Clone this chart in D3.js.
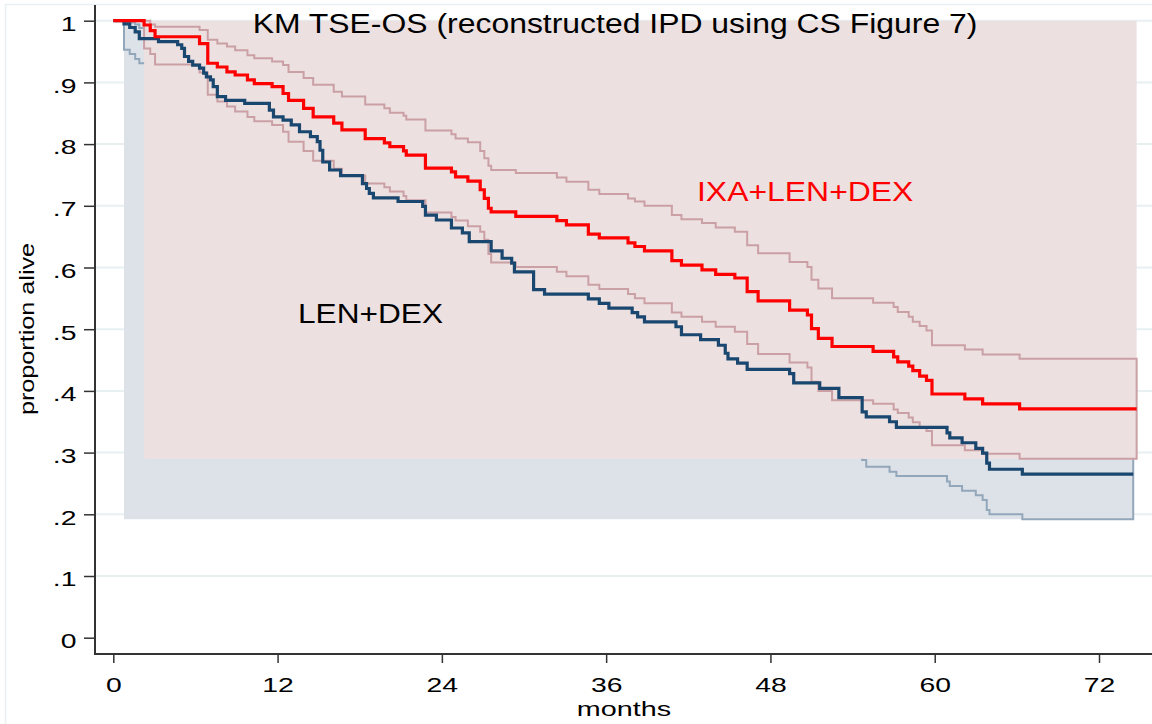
<!DOCTYPE html>
<html>
<head>
<meta charset="utf-8">
<script src="https://cdn.jsdelivr.net/npm/d3@7"></script>
<style>
  body { margin: 0; background: #fff; }
  svg { display: block; }
  text { font-family: "Liberation Sans", Arial, sans-serif; }
</style>
</head>
<body>
<svg id="chart"></svg>
<script>
// axis ticks
const monthTicks = [0, 12, 24, 36, 48, 60, 72];
const propTicks = [0, 0.1, 0.2, 0.3, 0.4, 0.5, 0.6, 0.7, 0.8, 0.9, 1];

// IXA+LEN+DEX (red) - KM steps, CI starts at first event
const ixaTime = [0, 2.25, 2.7, 3.05, 6.3, 6.9, 7.6, 8.3, 8.9, 9.8, 10.3, 11.6, 12.4, 12.8, 13.9, 14.6, 16.1, 16.7, 18.4, 19.8, 20.2, 21.2, 21.4, 22.8, 24.7, 25.0, 25.9, 26.8, 27.1, 27.4, 27.6, 29.4, 32.4, 33.1, 34.7, 35.5, 37.6, 38.1, 38.8, 40.8, 41.5, 43.0, 44.0, 45.4, 46.3, 47.1, 49.4, 50.7, 51.0, 51.5, 52.5, 55.5, 57.0, 57.3, 58.1, 58.4, 58.9, 59.4, 59.8, 62.2, 63.5, 66.2];
const ixaSurv = [1, 0.993, 0.984, 0.974, 0.963, 0.931, 0.925, 0.917, 0.912, 0.904, 0.898, 0.893, 0.882, 0.871, 0.858, 0.844, 0.834, 0.823, 0.809, 0.802, 0.796, 0.789, 0.782, 0.761, 0.755, 0.747, 0.740, 0.726, 0.712, 0.696, 0.690, 0.683, 0.676, 0.669, 0.654, 0.648, 0.640, 0.634, 0.627, 0.611, 0.604, 0.596, 0.589, 0.583, 0.561, 0.546, 0.531, 0.523, 0.501, 0.485, 0.472, 0.464, 0.455, 0.447, 0.440, 0.433, 0.424, 0.417, 0.395, 0.387, 0.379, 0.371];
const ixaHi = [1.0, 0.994, 0.990, 0.985, 0.969, 0.963, 0.958, 0.952, 0.944, 0.939, 0.934, 0.928, 0.917, 0.907, 0.896, 0.885, 0.877, 0.864, 0.858, 0.851, 0.846, 0.840, 0.822, 0.816, 0.809, 0.803, 0.789, 0.777, 0.765, 0.758, 0.753, 0.746, 0.739, 0.726, 0.719, 0.712, 0.707, 0.700, 0.685, 0.678, 0.672, 0.665, 0.658, 0.636, 0.623, 0.609, 0.601, 0.580, 0.566, 0.550, 0.543, 0.536, 0.528, 0.520, 0.512, 0.505, 0.498, 0.474, 0.467, 0.459, 0.452];
const ixaLo = [0.955, 0.946, 0.929, 0.916, 0.880, 0.869, 0.861, 0.853, 0.844, 0.837, 0.831, 0.820, 0.804, 0.789, 0.773, 0.760, 0.749, 0.736, 0.730, 0.723, 0.716, 0.709, 0.689, 0.682, 0.676, 0.667, 0.658, 0.645, 0.622, 0.608, 0.601, 0.593, 0.586, 0.572, 0.565, 0.557, 0.550, 0.542, 0.527, 0.520, 0.512, 0.504, 0.496, 0.476, 0.460, 0.446, 0.438, 0.415, 0.400, 0.385, 0.379, 0.370, 0.364, 0.357, 0.349, 0.341, 0.335, 0.312, 0.304, 0.298, 0.290];
const ixaEnd = 74.75;

// LEN+DEX (navy)
const lenTime = [0, 0.78, 1.2, 1.6, 1.9, 3.3, 4.7, 5.0, 5.2, 5.5, 5.8, 6.3, 6.6, 6.8, 7.1, 7.3, 7.6, 8.2, 9.6, 11.4, 11.7, 12.4, 13.0, 13.6, 14.4, 14.9, 15.1, 15.3, 15.8, 16.6, 18.2, 18.5, 18.7, 19.0, 20.8, 22.6, 22.8, 23.6, 24.7, 25.5, 26.0, 27.6, 28.4, 29.1, 29.3, 30.7, 31.5, 34.7, 35.5, 36.2, 37.9, 38.3, 38.8, 41.1, 41.5, 42.9, 44.2, 44.7, 44.9, 45.6, 46.3, 49.4, 49.7, 51.6, 53.0, 54.7, 55.0, 56.7, 57.2, 60.9, 61.1, 62.0, 63.0, 63.5, 63.8, 64.0, 66.4];
const lenSurv = [1, 0.995, 0.989, 0.982, 0.971, 0.966, 0.961, 0.955, 0.942, 0.934, 0.928, 0.923, 0.915, 0.909, 0.904, 0.893, 0.877, 0.871, 0.866, 0.855, 0.844, 0.839, 0.831, 0.820, 0.812, 0.804, 0.790, 0.771, 0.758, 0.749, 0.736, 0.728, 0.720, 0.713, 0.707, 0.699, 0.685, 0.677, 0.664, 0.656, 0.642, 0.627, 0.615, 0.607, 0.593, 0.564, 0.557, 0.549, 0.542, 0.534, 0.527, 0.520, 0.512, 0.504, 0.491, 0.483, 0.474, 0.461, 0.452, 0.445, 0.435, 0.428, 0.413, 0.404, 0.389, 0.366, 0.358, 0.350, 0.341, 0.332, 0.324, 0.316, 0.307, 0.299, 0.283, 0.273, 0.265];
const lenHi = [0.998, 0.997, 0.994, 0.988, 0.985, 0.982, 0.978, 0.969, 0.963, 0.958, 0.954, 0.948, 0.943, 0.939, 0.930, 0.917, 0.913, 0.909, 0.899, 0.890, 0.886, 0.879, 0.870, 0.863, 0.856, 0.844, 0.827, 0.816, 0.808, 0.797, 0.789, 0.782, 0.776, 0.771, 0.764, 0.751, 0.744, 0.732, 0.725, 0.712, 0.698, 0.687, 0.680, 0.667, 0.639, 0.632, 0.625, 0.618, 0.611, 0.604, 0.597, 0.590, 0.582, 0.570, 0.562, 0.554, 0.541, 0.533, 0.526, 0.517, 0.510, 0.496, 0.487, 0.473, 0.451, 0.443, 0.435, 0.427, 0.418, 0.410, 0.402, 0.393, 0.385, 0.369, 0.359, 0.351];
const lenLo = [0.953, 0.946, 0.938, 0.931, 0.925, 0.919, 0.912, 0.897, 0.888, 0.881, 0.875, 0.866, 0.859, 0.853, 0.841, 0.824, 0.817, 0.811, 0.799, 0.787, 0.781, 0.772, 0.760, 0.751, 0.743, 0.728, 0.707, 0.693, 0.684, 0.670, 0.661, 0.652, 0.645, 0.639, 0.630, 0.616, 0.607, 0.594, 0.585, 0.571, 0.555, 0.543, 0.534, 0.520, 0.490, 0.483, 0.475, 0.467, 0.459, 0.452, 0.444, 0.436, 0.428, 0.415, 0.407, 0.398, 0.385, 0.376, 0.369, 0.359, 0.352, 0.337, 0.328, 0.313, 0.288, 0.277, 0.269, 0.262, 0.253, 0.246, 0.238, 0.231, 0.223, 0.207, 0.200, 0.192];
const lenEnd = 74.5;

const svgWidth = 1152;
const svgHeight = 724;
const axisX = 95;
const axisY = 654;
const gridColor = "#e9f0f2";

const svg = d3.select("#chart").attr("width", svgWidth).attr("height", svgHeight);

const x = d3.scaleLinear().domain([0, 72]).range([113.3, 1099]);
const y = d3.scaleLinear().domain([0, 1]).range([637.7, 20.7]);

// outer frame
svg.append("rect")
  .attr("x", 5.5).attr("y", 4.5)
  .attr("width", 2000).attr("height", 2000)
  .attr("fill", "none").attr("stroke", gridColor).attr("stroke-width", 1.5);

// grid
svg.append("g")
  .selectAll("line")
  .data(propTicks.filter((d) => d > 0))
  .join("line")
  .attr("x1", axisX).attr("x2", svgWidth)
  .attr("y1", (d) => y(d)).attr("y2", (d) => y(d))
  .attr("stroke", gridColor).attr("stroke-width", 2);

function stepPoints(t, v, tEnd) {
  const pts = [];
  t.forEach((ti, i) => {
    if (i > 0) pts.push([ti, v[i - 1]]);
    pts.push([ti, v[i]]);
  });
  pts.push([tEnd, v[v.length - 1]]);
  return pts;
}

const line = d3.line().x((d) => x(d[0])).y((d) => y(d[1]));

function drawBand(t, lo, hi, tEnd, fill, stroke) {
  const ciT = t.slice(1);
  const top = d3.max(hi);
  const bot = d3.min(lo);
  svg.append("rect")
    .attr("x", x(ciT[0]))
    .attr("width", x(tEnd) - x(ciT[0]))
    .attr("y", y(top))
    .attr("height", y(bot) - y(top))
    .attr("fill", fill);
  const up = stepPoints(ciT, hi, tEnd);
  const dn = stepPoints(ciT, lo, tEnd).reverse();
  svg.append("path")
    .attr("d", line(up.concat(dn)) + "Z")
    .attr("fill", "none")
    .attr("stroke", stroke)
    .attr("stroke-width", 2);
}

drawBand(lenTime, lenLo, lenHi, lenEnd, "#dde2e9", "#93a7bb");
drawBand(ixaTime, ixaLo, ixaHi, ixaEnd, "#ede0e1", "#caa0a5");

svg.append("path")
  .attr("d", line(stepPoints(lenTime, lenSurv, lenEnd)))
  .attr("fill", "none").attr("stroke", "#1a476f").attr("stroke-width", 3.2);

svg.append("path")
  .attr("d", line(stepPoints(ixaTime, ixaSurv, ixaEnd)))
  .attr("fill", "none").attr("stroke", "#ff0000").attr("stroke-width", 3.2);

// axes
const fmt = (v) => (v === 0 ? "0" : v === 1 ? "1" : "." + Math.round(v * 10));
const sx = 1.35;

const yAxis = svg.append("g")
  .attr("transform", `translate(${axisX},0)`)
  .call(d3.axisLeft(y).tickValues(propTicks).tickFormat(fmt).tickSize(11).tickSizeOuter(0));
yAxis.select(".domain").remove();
yAxis.selectAll(".tick line").attr("stroke", "#333").attr("stroke-width", 1.5);
yAxis.selectAll(".tick text")
  .attr("x", -18.5 / sx)
  .attr("dy", "0.47em")
  .attr("transform", `scale(${sx},1)`)
  .style("font-size", "21px")
  .style("font-family", '"Liberation Sans", Arial, sans-serif')
  .attr("fill", "#000");

const xAxis = svg.append("g")
  .attr("transform", `translate(0,${axisY})`)
  .call(d3.axisBottom(x).tickValues(monthTicks).tickSize(9).tickSizeOuter(0));
xAxis.select(".domain").remove();
xAxis.selectAll(".tick line").attr("stroke", "#333").attr("stroke-width", 1.5);
xAxis.selectAll(".tick text")
  .attr("y", 38)
  .attr("dy", 0)
  .attr("transform", `scale(${sx},1)`)
  .style("font-size", "21px")
  .style("font-family", '"Liberation Sans", Arial, sans-serif')
  .attr("fill", "#000");

svg.append("line")
  .attr("x1", axisX).attr("x2", axisX)
  .attr("y1", 5).attr("y2", axisY + 1)
  .attr("stroke", "#333").attr("stroke-width", 2);
svg.append("line")
  .attr("x1", axisX - 1).attr("x2", svgWidth)
  .attr("y1", axisY).attr("y2", axisY)
  .attr("stroke", "#333").attr("stroke-width", 2);

// texts
function label(txt, tx, ty, size, scale, anchor, color, rot) {
  svg.append("text")
    .attr("transform", `translate(${tx},${ty})${rot ? ` rotate(${rot})` : ""} scale(${scale},1)`)
    .attr("text-anchor", anchor)
    .style("font-size", size + "px")
    .attr("fill", color)
    .text(txt);
}

label("KM TSE-OS (reconstructed IPD using CS Figure 7)", 615, 33, 28, 1.14, "middle", "#000");
label("IXA+LEN+DEX", 697, 200.7, 28.5, 1.12, "start", "#ff0000");
label("LEN+DEX", 298, 323.3, 28.5, 1.11, "start", "#000");
label("months", 624, 716, 21, 1.37, "middle", "#000");
label("proportion alive", 34, 329, 20, 1.26, "middle", "#000", -90);
</script>
</body>
</html>
